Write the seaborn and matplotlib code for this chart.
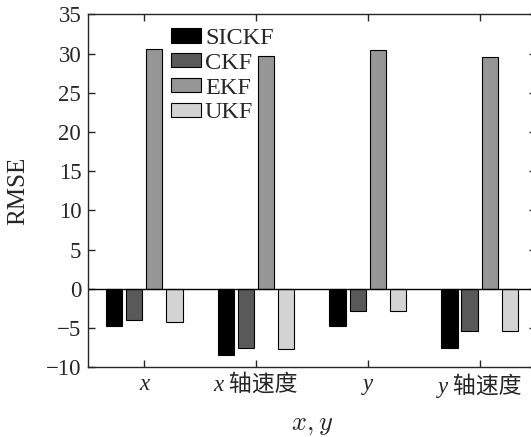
import numpy as np
import pandas as pd
import matplotlib
matplotlib.use("Agg")
import matplotlib.pyplot as plt
import seaborn as sns

# ==========================================
# data
# ==========================================
categories = ["x", "x 轴速度", "y", "y 轴速度"]
methods = ["SICKF", "CKF", "EKF", "UKF"]
sickf = [-4.8, -8.4, -4.75, -7.55]
ckf   = [-4.05, -7.6, -2.9, -5.45]
ekf   = [30.6, 29.75, 30.5, 29.6]
ukf   = [-4.25, -7.75, -2.9, -5.4]
colors = ["#000000", "#595959", "#969696", "#d3d3d3"]

df = pd.DataFrame({
    "cat": categories * 4,
    "method": np.repeat(methods, len(categories)),
    "rmse": sickf + ckf + ekf + ukf,
})

# ==========================================
# style
# ==========================================
sns.set_style("ticks")
plt.rcParams["font.family"] = ["Liberation Serif", "Noto Sans CJK SC", "DejaVu Sans"]
plt.rcParams["mathtext.fontset"] = "cm"

fig, ax = plt.subplots(figsize=(5.31, 4.37), dpi=100)
fig.subplots_adjust(left=0.166, right=1.009, bottom=0.16, top=0.967)

sns.barplot(data=df, x="cat", y="rmse", hue="method", order=categories,
            hue_order=methods, palette=colors, width=0.72, gap=0.18,
            edgecolor="black", linewidth=0.8, saturation=1, ax=ax)

ax.axhline(0, color="black", lw=1)
ax.set_xlim(-0.5, 3.5)
ax.set_ylim(-10, 35)
ax.set_yticks(range(-10, 40, 5))
ax.set_xticks(range(len(categories)))
ax.set_xticklabels(categories, fontsize=16.5, style="italic")
ax.tick_params(axis="y", labelsize=16.5)
ax.tick_params(direction="in", top=True, right=True, length=5, width=1, pad=5)
for s in ax.spines.values():
    s.set_linewidth(1)

ax.set_xlabel("$x, y$", fontsize=19, labelpad=12)
ax.set_ylabel("RMSE", fontsize=18, labelpad=12)

ax.legend(loc="upper left", bbox_to_anchor=(0.185, 0.962), frameon=False,
          fontsize=17.5, handlelength=1.25, handleheight=0.55, handletextpad=0.15,
          labelspacing=0.16, borderpad=0, borderaxespad=0)

plt.savefig("out.png", dpi=100)
